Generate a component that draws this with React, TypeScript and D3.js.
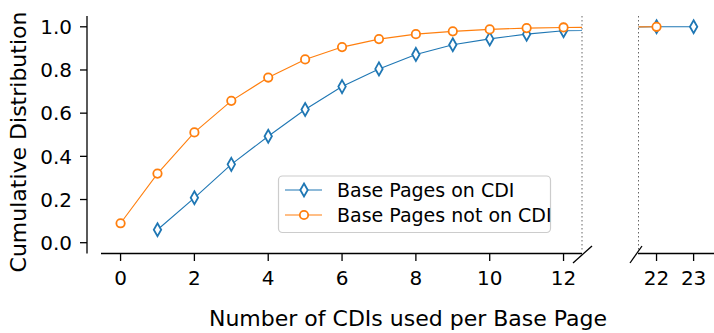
import React from 'react';
import * as d3 from 'd3';

// values
const onCdiX = [1, 2, 3, 4, 5, 6, 7, 8, 9, 10, 11, 12, 22, 23];
const onCdiY = [0.06, 0.208, 0.363, 0.493, 0.617, 0.723, 0.805, 0.872, 0.917, 0.944, 0.966, 0.982, 1.0, 1.0];
const notOnCdiX = [0, 1, 2, 3, 4, 5, 6, 7, 8, 9, 10, 11, 12, 22];
const notOnCdiY = [0.09, 0.32, 0.511, 0.657, 0.765, 0.849, 0.906, 0.943, 0.966, 0.979, 0.988, 0.994, 0.997, 1.0];
const leftTicks = [0, 2, 4, 6, 8, 10, 12];
const rightTicks = [22, 23];
const yTicks = [0, 0.2, 0.4, 0.6, 0.8, 1.0];

const BLUE = '#1f77b4';
const ORANGE = '#ff7f0e';
const FONT = 'DejaVu Sans, sans-serif';

const y = d3.scaleLinear().domain([-0.05, 1.05]).range([253.5, 16]);
const xl = d3.scaleLinear().domain([-0.53, 12.5]).range([101, 582]);
const xr = d3.scaleLinear().domain([21.5, 23.55]).range([638, 714]);

function Diamond({ cx, cy }: { cx: number; cy: number }) {
  return (
    <path
      d={`M${cx},${cy - 6.5} L${cx + 3.7},${cy} L${cx},${cy + 6.5} L${cx - 3.7},${cy} Z`}
      fill="white"
      stroke={BLUE}
      strokeWidth={1.8}
    />
  );
}

function Circ({ cx, cy }: { cx: number; cy: number }) {
  return <circle cx={cx} cy={cy} r={4.2} fill="white" stroke={ORANGE} strokeWidth={1.8} />;
}

function Panel({ x, id, left, right }: { x: d3.ScaleLinear<number, number>; id: string; left: number; right: number }) {
  const blue = onCdiX.map((v, i) => [v, onCdiY[i]] as [number, number]);
  const orange = notOnCdiX.map((v, i) => [v, notOnCdiY[i]] as [number, number]);
  const line = d3.line<[number, number]>().x((d) => x(d[0])).y((d) => y(d[1]));
  const dom = x.domain();
  const inside = (v: number) => v >= dom[0] && v <= dom[1];
  return (
    <g>
      <defs>
        <clipPath id={id}>
          <rect x={left} y={0} width={right - left} height={260} />
        </clipPath>
      </defs>
      <g clipPath={`url(#${id})`}>
        <path d={line(blue) || ''} fill="none" stroke={BLUE} strokeWidth={1.1} />
        <path d={line(orange) || ''} fill="none" stroke={ORANGE} strokeWidth={1.1} />
        {blue.filter((d) => inside(d[0])).map((d, i) => (
          <Diamond key={'b' + i} cx={x(d[0])} cy={y(d[1])} />
        ))}
        {orange.filter((d) => inside(d[0])).map((d, i) => (
          <Circ key={'o' + i} cx={x(d[0])} cy={y(d[1])} />
        ))}
      </g>
    </g>
  );
}

export default function App() {
  return (
    <svg width={714} height={333} style={{ position: 'absolute', left: 0, top: 0 }} fontFamily={FONT}>
      <rect width={714} height={333} fill="white" />

      {/* dotted panel edges */}
      <line x1={582} x2={582} y1={16} y2={250} stroke="#666" strokeWidth={1} strokeDasharray="1.5,2.5" />
      <line x1={638.5} x2={638.5} y1={16} y2={250} stroke="#666" strokeWidth={1} strokeDasharray="1.5,2.5" />

      <Panel x={xl} id="clipL" left={101} right={582} />
      <Panel x={xr} id="clipR" left={638.5} right={714} />

      {/* y axis */}
      <line x1={87} x2={87} y1={16} y2={253.5} stroke="black" strokeWidth={1.3} />
      {yTicks.map((t) => (
        <g key={t}>
          <line x1={80} x2={87} y1={y(t)} y2={y(t)} stroke="black" strokeWidth={1.3} />
          <text x={72} y={y(t)} dy="0.36em" textAnchor="end" fontSize={20}>
            {t.toFixed(1)}
          </text>
        </g>
      ))}

      {/* x axes */}
      <line x1={101} x2={582} y1={253.5} y2={253.5} stroke="black" strokeWidth={1.3} />
      <line x1={638} x2={714} y1={253.5} y2={253.5} stroke="black" strokeWidth={1.3} />
      {leftTicks.map((t) => (
        <g key={'l' + t}>
          <line x1={xl(t)} x2={xl(t)} y1={253.5} y2={261} stroke="black" strokeWidth={1.3} />
          <text x={xl(t)} y={285} textAnchor="middle" fontSize={20}>{t}</text>
        </g>
      ))}
      {rightTicks.map((t) => (
        <g key={'r' + t}>
          <line x1={xr(t)} x2={xr(t)} y1={253.5} y2={261} stroke="black" strokeWidth={1.3} />
          <text x={xr(t)} y={285} textAnchor="middle" fontSize={20}>{t}</text>
        </g>
      ))}

      {/* break marks */}
      <line x1={573} x2={592} y1={263} y2={246} stroke="black" strokeWidth={1.3} />
      <line x1={630} x2={642} y1={263} y2={246} stroke="black" strokeWidth={1.3} />

      {/* labels */}
      <text x={408} y={326} textAnchor="middle" fontSize={22}>Number of CDIs used per Base Page</text>
      <text transform="translate(26,142) rotate(-90)" textAnchor="middle" fontSize={22}>Cumulative Distribution</text>

      {/* legend */}
      <rect x={278.5} y={176} width={272} height={56.5} rx={4} fill="white" fillOpacity={0.85} stroke="#cccccc" strokeWidth={1.2} />
      <line x1={285} x2={322} y1={190} y2={190} stroke={BLUE} strokeWidth={1.1} />
      <Diamond cx={304} cy={190} />
      <text x={337} y={190} dy="0.36em" fontSize={19}>Base Pages on CDI</text>
      <line x1={285} x2={322} y1={215} y2={215} stroke={ORANGE} strokeWidth={1.1} />
      <Circ cx={304} cy={215} />
      <text x={337} y={215} dy="0.36em" fontSize={19}>Base Pages not on CDI</text>
    </svg>
  );
}
